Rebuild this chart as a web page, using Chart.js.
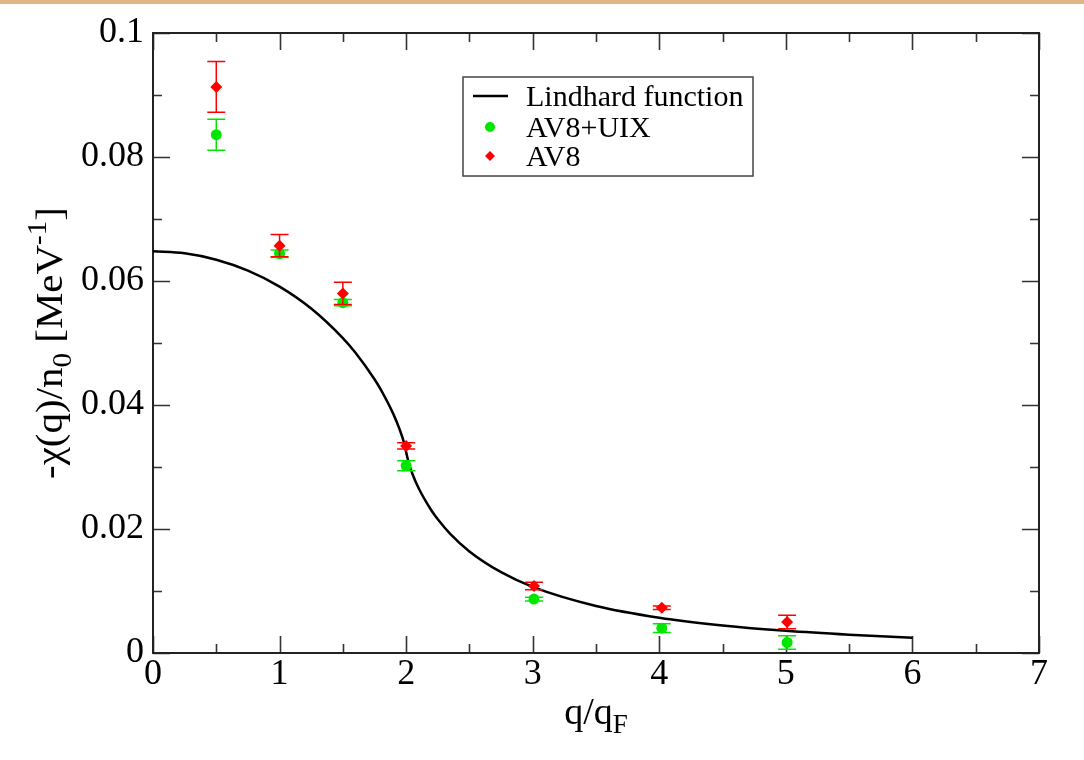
<!DOCTYPE html>
<html>
<head>
<meta charset="utf-8">
<title>Static response function</title>
<script src="https://cdn.jsdelivr.net/npm/chart.js@4.4.1/dist/chart.umd.min.js"></script>
<style>
  html, body { margin: 0; padding: 0; background: #ffffff; }
  canvas { display: block; }
</style>
</head>
<body>
<canvas id="chart" width="1084" height="760"></canvas>
<script>
// Lindhard function, sampled along q/q_F
const lindhardQ = [0, 0.25, 0.5, 0.75, 1, 1.25, 1.5, 1.6, 1.75, 1.8, 1.9, 1.95, 1.98, 2, 2.02, 2.05, 2.1, 2.2, 2.25, 2.35, 2.5, 2.75, 3, 3.5, 4, 4.5, 5, 5.5, 6];
const lindhardChi = [0.0648, 0.06446, 0.06343, 0.06167, 0.0591, 0.05556, 0.05079, 0.04842, 0.04415, 0.04247, 0.03849, 0.03598, 0.03412, 0.0324, 0.03069, 0.02888, 0.02653, 0.02298, 0.02156, 0.01917, 0.01638, 0.01303, 0.01067, 0.00759, 0.0057, 0.00445, 0.00357, 0.00294, 0.00246];

// AV8+UIX results
const av8uixQ = [0.5, 1.0, 1.5, 2.0, 3.01, 4.02, 5.01];
const av8uixChi = [0.0836, 0.0644, 0.0565, 0.0302, 0.0087, 0.0040, 0.0017];
const av8uixErr = [0.0025, 0.0006, 0.0005, 0.0008, 0.0003, 0.0007, 0.0011];

// AV8 results
const av8Q = [0.5, 1.0, 1.5, 2.0, 3.01, 4.02, 5.01];
const av8Chi = [0.0913, 0.0657, 0.0580, 0.0334, 0.0108, 0.0073, 0.0050];
const av8Err = [0.0041, 0.0018, 0.0018, 0.0005, 0.0006, 0.0003, 0.0011];

const xTickLabels = ['0', '1', '2', '3', '4', '5', '6', '7'];
const yTickLabels = ['0', '0.02', '0.04', '0.06', '0.08', '0.1'];

const SERIF = "'Liberation Serif', 'Times New Roman', serif";
const GREEN = '#00e600';
const RED = '#ff0000';

const toPoints = (xs, ys) => xs.map((x, i) => ({ x: x, y: ys[i] }));

// thin header band across the top of the page
const headerBand = {
  id: 'headerBand',
  beforeDraw(chart) {
    const ctx = chart.ctx;
    ctx.save();
    ctx.fillStyle = '#dfb784';
    ctx.fillRect(0, 0, chart.width, 4);
    ctx.restore();
  }
};

// frame with inward major/minor ticks on all four sides
const frameTicks = {
  id: 'frameTicks',
  beforeDatasetsDraw(chart) {
    const { ctx, chartArea: { left, right, top, bottom }, scales: { x, y } } = chart;
    ctx.save();
    ctx.strokeStyle = '#333';
    ctx.lineWidth = 1.6;
    ctx.beginPath();
    for (let i = 0; i <= 14; i++) {
      const v = i * 0.5;
      const px = Math.round(x.getPixelForValue(v)) + 0.5;
      const len = i % 2 === 0 ? 17 : 9;
      ctx.moveTo(px, bottom); ctx.lineTo(px, bottom - len);
      ctx.moveTo(px, top); ctx.lineTo(px, top + len);
    }
    for (let i = 0; i <= 10; i++) {
      const v = i * 0.01;
      const py = Math.round(y.getPixelForValue(v)) + 0.5;
      const len = i % 2 === 0 ? 17 : 9;
      ctx.moveTo(left, py); ctx.lineTo(left + len, py);
      ctx.moveTo(right, py); ctx.lineTo(right - len, py);
    }
    ctx.stroke();
    ctx.strokeStyle = '#222';
    ctx.lineWidth = 2;
    ctx.strokeRect(left, top, right - left, bottom - top);
    ctx.restore();
  }
};

// vertical error bars with caps
const errorBars = {
  id: 'errorBars',
  afterDatasetDraw(chart, args) {
    const ds = chart.data.datasets[args.index];
    if (!ds.errors) return;
    const { ctx, scales: { x, y } } = chart;
    ctx.save();
    ctx.strokeStyle = ds.borderColor;
    ctx.lineWidth = 1.5;
    ctx.beginPath();
    ds.data.forEach((p, i) => {
      const e = ds.errors[i];
      const px = x.getPixelForValue(p.x);
      const yTop = y.getPixelForValue(p.y + e);
      const yBot = y.getPixelForValue(p.y - e);
      ctx.moveTo(px, yTop); ctx.lineTo(px, yBot);
      ctx.moveTo(px - 9, yTop); ctx.lineTo(px + 9, yTop);
      ctx.moveTo(px - 9, yBot); ctx.lineTo(px + 9, yBot);
    });
    ctx.stroke();
    ctx.restore();
  }
};

// boxed legend inside the plot
const boxLegend = {
  id: 'boxLegend',
  afterDraw(chart) {
    const ctx = chart.ctx;
    const bx = 463, by = 77, bw = 290, bh = 99;
    ctx.save();
    ctx.fillStyle = '#ffffff';
    ctx.fillRect(bx, by, bw, bh);
    ctx.strokeStyle = '#444';
    ctx.lineWidth = 1.5;
    ctx.strokeRect(bx, by, bw, bh);
    ctx.font = '30px ' + SERIF;
    ctx.fillStyle = '#000';
    ctx.textBaseline = 'alphabetic';
    ctx.textAlign = 'left';
    const rows = [96, 127, 156];
    chart.data.datasets.forEach((ds, i) => {
      const cy = rows[i];
      if (ds.pointRadius === 0) {
        ctx.strokeStyle = ds.borderColor;
        ctx.lineWidth = 2.5;
        ctx.beginPath();
        ctx.moveTo(473, cy); ctx.lineTo(508, cy);
        ctx.stroke();
      } else if (ds.pointStyle === 'circle') {
        ctx.fillStyle = ds.backgroundColor;
        ctx.beginPath();
        ctx.arc(490, cy, 5, 0, Math.PI * 2);
        ctx.fill();
      } else {
        ctx.fillStyle = ds.backgroundColor;
        ctx.beginPath();
        ctx.moveTo(490, cy - 5); ctx.lineTo(495, cy); ctx.lineTo(490, cy + 5); ctx.lineTo(485, cy);
        ctx.closePath();
        ctx.fill();
      }
      ctx.fillStyle = '#000';
      ctx.fillText(ds.label, 526, cy + 10);
    });
    ctx.restore();
  }
};

// axis titles with sub- and superscripts
const axisTitles = {
  id: 'axisTitles',
  afterDraw(chart) {
    const ctx = chart.ctx;
    const area = chart.chartArea;
    ctx.save();
    ctx.fillStyle = '#000';
    ctx.textBaseline = 'alphabetic';
    ctx.textAlign = 'left';

    // x title: q/q_F
    const big = '38px ' + SERIF, small = '27px ' + SERIF;
    ctx.font = big;
    const w1 = ctx.measureText('q/q').width;
    ctx.font = small;
    const w2 = ctx.measureText('F').width;
    const cx = (area.left + area.right) / 2;
    let sx = cx - (w1 + w2) / 2;
    const base = 724;
    ctx.font = big; ctx.fillText('q/q', sx, base);
    ctx.font = small; ctx.fillText('F', sx + w1, base + 9);

    // y title: -χ(q)/n_0 [MeV^-1]
    const parts = [
      { t: '-\u03C7(q)/n', f: big, dy: 0 },
      { t: '0', f: small, dy: 9 },
      { t: ' [MeV', f: big, dy: 0 },
      { t: '-1', f: small, dy: -16 },
      { t: ']', f: big, dy: 0 }
    ];
    let total = 0;
    parts.forEach(p => { ctx.font = p.f; p.w = ctx.measureText(p.t).width; total += p.w; });
    const target = 272;
    const stretch = target / total;
    const cyT = 343;
    ctx.translate(62, cyT);
    ctx.rotate(-Math.PI / 2);
    ctx.scale(stretch, 1);
    let px = -total / 2;
    parts.forEach(p => {
      ctx.font = p.f;
      ctx.fillText(p.t, px, p.dy);
      px += p.w;
    });
    ctx.restore();
  }
};

new Chart(document.getElementById('chart'), {
  type: 'scatter',
  data: {
    datasets: [
      {
        label: 'Lindhard function',
        data: toPoints(lindhardQ, lindhardChi),
        showLine: true,
        borderColor: '#000000',
        backgroundColor: '#000000',
        borderWidth: 2.5,
        pointRadius: 0,
        cubicInterpolationMode: 'monotone',
        order: 3
      },
      {
        label: 'AV8+UIX',
        data: toPoints(av8uixQ, av8uixChi),
        errors: av8uixErr,
        borderColor: GREEN,
        backgroundColor: GREEN,
        pointStyle: 'circle',
        pointRadius: 5.5,
        pointBorderWidth: 0,
        order: 2
      },
      {
        label: 'AV8',
        data: toPoints(av8Q, av8Chi),
        errors: av8Err,
        borderColor: RED,
        backgroundColor: RED,
        pointStyle: 'rectRot',
        pointRadius: 6,
        pointBorderWidth: 0,
        order: 1
      }
    ]
  },
  options: {
    responsive: false,
    animation: false,
    devicePixelRatio: 1,
    layout: { padding: { left: 0, top: 33, right: 45, bottom: 0 } },
    plugins: {
      legend: { display: false },
      tooltip: { enabled: false }
    },
    scales: {
      x: {
        type: 'linear',
        min: 0, max: 7,
        afterFit(scale) { scale.height = 107; },
        grid: { display: false, drawTicks: false },
        border: { display: false },
        ticks: {
          stepSize: 1,
          padding: 0,
          color: '#000',
          font: { family: SERIF, size: 36 },
          callback: (v, i) => xTickLabels[i]
        }
      },
      y: {
        type: 'linear',
        min: 0, max: 0.1,
        afterFit(scale) { scale.width = 153; },
        grid: { display: false, drawTicks: false },
        border: { display: false },
        ticks: {
          stepSize: 0.02,
          padding: 9,
          color: '#000',
          font: { family: SERIF, size: 36 },
          callback: (v, i) => yTickLabels[i]
        }
      }
    }
  },
  plugins: [headerBand, frameTicks, errorBars, boxLegend, axisTitles]
});
</script>
</body>
</html>
